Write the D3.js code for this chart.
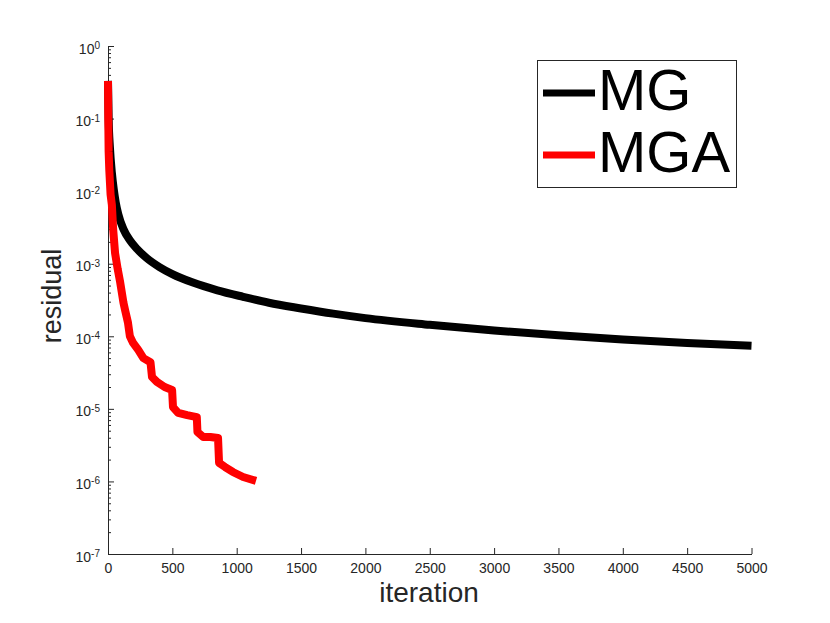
<!DOCTYPE html>
<html>
<head>
<meta charset="utf-8">
<script src="https://cdn.jsdelivr.net/npm/d3@7"></script>
<style>
  body { margin: 0; background: #fff; }
  svg { font-family: "Liberation Sans", Arial, Helvetica, sans-serif; }
</style>
</head>
<body>
<svg id="chart" width="830" height="623"></svg>
<script>
'use strict'

// MG (black) residual history
const mgIter = [0, 5, 15, 30, 45, 60, 80, 120, 170, 225, 300, 400, 500, 660, 850, 1050, 1250, 1500, 1750, 2000, 2500, 3000, 3500, 4000, 4500, 5000]
const mgRes = [0.33, 0.1, 0.04, 0.018, 0.0105, 7.0e-3, 4.8e-3, 3.0e-3, 2.1e-3, 1.6e-3, 1.2e-3, 9.0e-4, 7.2e-4, 5.5e-4, 4.3e-4, 3.5e-4, 2.9e-4, 2.42e-4, 2.05e-4, 1.78e-4, 1.44e-4, 1.2e-4, 1.03e-4, 9.0e-5, 8.1e-5, 7.4e-5]

// MGA (red) residual history
const mgaIter = [0, 2, 5, 10, 20, 30, 40, 55, 75, 95, 120, 135, 155, 170, 195, 235, 275, 330, 342, 380, 440, 498, 505, 545, 615, 690, 695, 740, 795, 855, 863, 910, 970, 1050, 1150]
const mgaRes = [0.33, 0.1, 0.035, 0.0195, 9e-3, 6.5e-3, 3.0e-3, 1.4e-3, 8.5e-4, 5.5e-4, 2.9e-4, 2.2e-4, 1.55e-4, 1.0e-4, 8.1e-5, 6.5e-5, 5.0e-5, 4.4e-5, 2.75e-5, 2.35e-5, 2.0e-5, 1.82e-5, 1.06e-5, 8.8e-6, 8.2e-6, 7.7e-6, 4.8e-6, 4.1e-6, 4.1e-6, 3.96e-6, 1.8e-6, 1.58e-6, 1.35e-6, 1.15e-6, 1.02e-6]

const xTicks = [0, 500, 1000, 1500, 2000, 2500, 3000, 3500, 4000, 4500, 5000]
const yExponents = [0, -1, -2, -3, -4, -5, -6, -7]
const seriesNames = ['MG', 'MGA']
const seriesColors = ['#000000', '#ff0000']

const axisColor = '#262626'
const svg = d3.select('#chart')

const x = d3.scaleLinear().domain([0, 5000]).range([108, 751.5])
const y = d3.scaleLog().domain([1e-7, 1]).range([554, 46])

// minor log ticks 2..9 x 10^k
let minorTicks = []
yExponents.slice(1).forEach(function (e) {
  for (let m = 2; m <= 9; m++) minorTicks.push(m * Math.pow(10, e))
})

// x axis
let gx = svg.append('g')
  .attr('transform', `translate(0,${y.range()[0]})`)
  .call(d3.axisBottom(x).tickValues(xTicks).tickFormat(d3.format('d'))
    .tickSizeInner(-6).tickSizeOuter(0).tickPadding(9))
gx.selectAll('text').attr('font-size', 14).attr('fill', axisColor)
gx.selectAll('line, path').attr('stroke', axisColor)

// y axis, major
let gy = svg.append('g')
  .attr('transform', `translate(${x.range()[0]},0)`)
  .call(d3.axisLeft(y).tickValues(yExponents.map(e => Math.pow(10, e)))
    .tickFormat('').tickSizeInner(-6).tickSizeOuter(0).tickPadding(8))
gy.selectAll('line, path').attr('stroke', axisColor)
gy.selectAll('.tick text')
  .attr('dy', null).attr('y', 7).attr('font-size', 14).attr('fill', axisColor)
  .each(function (d) {
    let t = d3.select(this)
    t.append('tspan').text('10')
    t.append('tspan').attr('dy', -4.5).attr('font-size', 10)
      .text(String(Math.round(Math.log10(d))))
  })

// y axis, minor
let gm = svg.append('g')
  .attr('transform', `translate(${x.range()[0]},0)`)
  .call(d3.axisLeft(y).tickValues(minorTicks).tickFormat('')
    .tickSizeInner(-3).tickSizeOuter(0))
gm.select('.domain').remove()
gm.selectAll('line').attr('stroke', axisColor)

// series
const line = d3.line()
  .x(d => x(d[0]))
  .y(d => y(d[1]))

svg.append('path')
  .datum(d3.zip(mgIter, mgRes))
  .attr('fill', 'none')
  .attr('stroke', seriesColors[0])
  .attr('stroke-width', 8)
  .attr('stroke-linejoin', 'round')
  .attr('d', line.curve(d3.curveMonotoneX))

svg.append('path')
  .datum(d3.zip(mgaIter, mgaRes))
  .attr('fill', 'none')
  .attr('stroke', seriesColors[1])
  .attr('stroke-width', 8)
  .attr('stroke-linejoin', 'round')
  .attr('d', line.curve(d3.curveLinear))

// axis labels
svg.append('text')
  .attr('x', 429).attr('y', 602)
  .attr('text-anchor', 'middle')
  .attr('font-size', 28)
  .attr('fill', axisColor)
  .text('iteration')

svg.append('text')
  .attr('transform', 'translate(61,296) rotate(-90)')
  .attr('text-anchor', 'middle')
  .attr('font-size', 27)
  .attr('fill', axisColor)
  .text('residual')

// legend
let lg = svg.append('g')
lg.append('rect')
  .attr('x', 537.5).attr('y', 60.5)
  .attr('width', 199).attr('height', 127)
  .attr('fill', '#fff')
  .attr('stroke', axisColor)
  .attr('stroke-width', 1)
seriesNames.forEach(function (name, i) {
  let yy = 93 + i * 62
  lg.append('line')
    .attr('x1', 543).attr('x2', 595)
    .attr('y1', yy).attr('y2', yy)
    .attr('stroke', seriesColors[i])
    .attr('stroke-width', 7)
  lg.append('text')
    .attr('x', 598).attr('y', yy + 17)
    .attr('font-size', 58)
    .attr('fill', '#000')
    .text(name)
})
</script>
</body>
</html>
